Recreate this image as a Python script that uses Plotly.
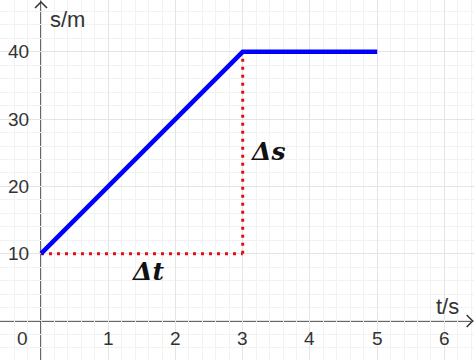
import plotly.graph_objects as go

# data
t_vals = [0, 3, 5]
s_vals = [10, 40, 40]
dt_x = [0, 3]
dt_y = [10, 10]
ds_x = [3, 3]
ds_y = [10, 40]
x_ticks = [0, 1, 2, 3, 4, 5, 6]
y_ticks = [10, 20, 30, 40]

XR = [-0.61, 6.44]
YR = [-5.8, 47.7]

fig = go.Figure()
red_line = dict(color="#e01018", width=3, dash="3px,5px")
fig.add_trace(go.Scatter(x=dt_x, y=dt_y, mode="lines", line=red_line, hoverinfo="skip"))
fig.add_trace(go.Scatter(x=ds_x, y=ds_y, mode="lines", line=red_line, hoverinfo="skip"))
fig.add_trace(go.Scatter(x=t_vals, y=s_vals, mode="lines",
                         line=dict(color="#0000ff", width=4.5), hoverinfo="skip"))

ann = []
tick_font = dict(family="Liberation Sans, Arial, sans-serif", size=19, color="#333333")
for v in x_ticks:
    xx = v if v != 0 else -0.27
    ann.append(dict(x=xx, y=-2.6, text=str(v), showarrow=False, font=tick_font,
                    xanchor="center", yanchor="middle"))
for v in y_ticks:
    ann.append(dict(x=-0.33, y=v, text=str(v), showarrow=False, font=tick_font,
                    xanchor="center", yanchor="middle"))
lab_font = dict(family="Liberation Sans, Arial, sans-serif", size=22, color="#333333")
ann.append(dict(x=0.1, y=44.8, text="s/m", showarrow=False, font=lab_font,
                xanchor="left", yanchor="middle"))
ann.append(dict(x=6.04, y=2.2, text="t/s", showarrow=False, font=lab_font,
                xanchor="center", yanchor="middle"))
math_font = dict(family="DejaVu Serif, Liberation Serif, serif", size=25, color="#111111")
ann.append(dict(x=1.58, y=7.3, text="<b><i>Δt</i></b>", showarrow=False, font=math_font,
                xanchor="center", yanchor="middle"))
ann.append(dict(x=3.08, y=25.2, text="<b><i>Δs</i></b>", showarrow=False, font=math_font,
                xanchor="left", yanchor="middle"))

shapes = [
    dict(type="line", x0=XR[0], x1=XR[1] - 0.01, y0=0, y1=0, layer="below",
         line=dict(color="#333333", width=1.5)),
    dict(type="line", x0=0, x1=0, y0=YR[0], y1=YR[1] - 0.05, layer="below",
         line=dict(color="#333333", width=1.5)),
    dict(type="path", xsizemode="pixel", ysizemode="pixel", xanchor=XR[1] - 0.02, yanchor=0,
         path="M -6 6 L 0 0 L -6 -6", line=dict(color="#333333", width=1.5)),
    dict(type="path", xsizemode="pixel", ysizemode="pixel", xanchor=0, yanchor=YR[1] - 0.3,
         path="M -6 -6 L 0 0 L 6 -6", line=dict(color="#333333", width=1.5)),
]

fig.update_layout(
    width=474, height=360, margin=dict(l=0, r=0, t=0, b=0),
    paper_bgcolor="white", plot_bgcolor="white", showlegend=False,
    annotations=ann, shapes=shapes,
    xaxis=dict(range=XR, dtick=1, tick0=0, showgrid=True, gridcolor="#e4e4e4", gridwidth=1,
               minor=dict(dtick=0.2, tick0=0, showgrid=True, gridcolor="#f2f2f2", gridwidth=1),
               showticklabels=False, zeroline=False, showline=False, ticks=""),
    yaxis=dict(range=YR, dtick=10, tick0=0, showgrid=True, gridcolor="#e4e4e4", gridwidth=1,
               minor=dict(dtick=2, tick0=0, showgrid=True, gridcolor="#f2f2f2", gridwidth=1),
               showticklabels=False, zeroline=False, showline=False, ticks=""),
)
fig.write_html("out.html")
